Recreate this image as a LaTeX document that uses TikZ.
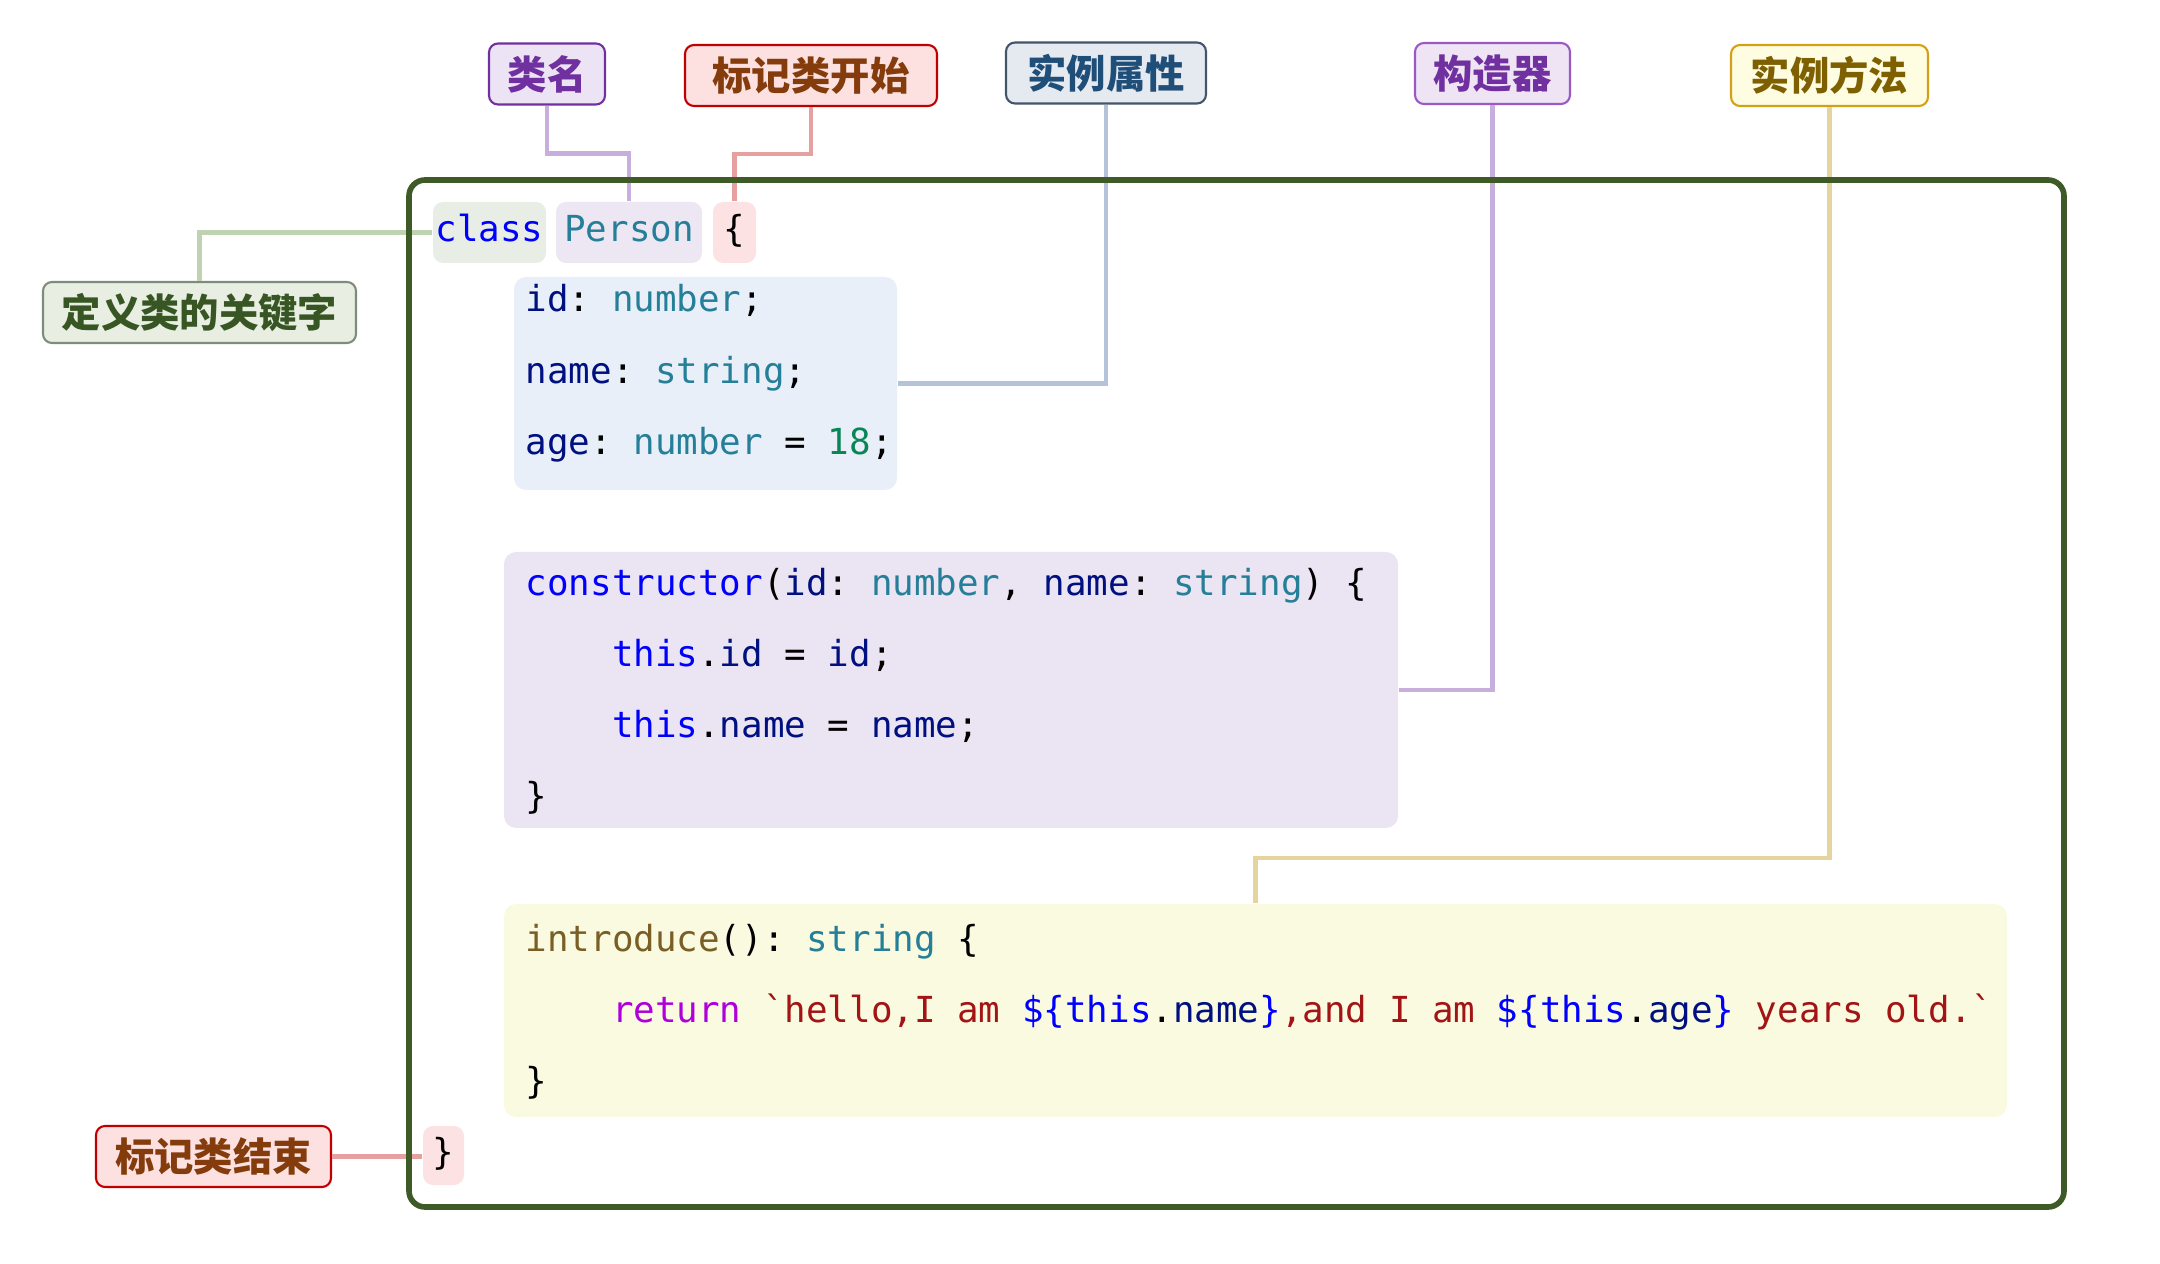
\documentclass[tikz,border=0pt]{standalone}
\usepackage{fontspec}
\setmonofont{DejaVu Sans Mono}
\newfontfamily\cjk{Noto Sans CJK SC}
\usetikzlibrary{positioning}

\definecolor{framegreen}{HTML}{3D5A27}
\definecolor{kwblue}{HTML}{0000FF}
\definecolor{typeteal}{HTML}{267F99}
\definecolor{propnavy}{HTML}{001080}
\definecolor{numgreen}{HTML}{098658}
\definecolor{fnbrown}{HTML}{795E26}
\definecolor{retpurple}{HTML}{AF00DB}
\definecolor{strred}{HTML}{A31515}
\definecolor{classfill}{HTML}{E8EEE6}
\definecolor{personfill}{HTML}{EDE6F3}
\definecolor{bracefill}{HTML}{FCE2E2}
\definecolor{fieldfill}{HTML}{E8EFF8}
\definecolor{ctorfill}{HTML}{EBE4F2}
\definecolor{methodfill}{HTML}{FAFAE1}
\definecolor{purplelink}{HTML}{C8AEDC}
\definecolor{redlink}{HTML}{E6A0A0}
\definecolor{bluelink}{HTML}{B4C2DC}
\definecolor{yellowlink}{HTML}{E6D49E}
\definecolor{greenlink}{HTML}{BFD2B2}

\newcommand\codefont{\ttfamily\fontsize{10.2}{12}\selectfont}
\newcommand\codeindent{\phantom{0000}}

\begin{document}
\begin{tikzpicture}[x=0.1mm, y=-0.1mm,
    tag/.style={draw, rounded corners=0.9mm, line width=0.6pt, inner sep=0pt, minimum height=6.1mm, font=\cjk\bfseries\fontsize{11.2}{13}\selectfont},
    token/.style={rounded corners=1mm, inner sep=0pt, minimum height=6.1mm, text height=0.75em, text depth=0.25em, font=\codefont},
    block/.style={rounded corners=1.2mm, inner sep=0pt},
    code/.style={anchor=base west, inner sep=0pt, font=\codefont},
    link/.style={line width=1.2pt},
    classframe/.style={draw=framegreen, line width=1.6pt, rounded corners=1.6mm}]

\useasboundingbox (0,0) rectangle (2160,1264);

\node[tag, fill={rgb,255:red,236;green,228;blue,244}, draw={rgb,255:red,112;green,48;blue,160}, text={rgb,255:red,112;green,48;blue,160}, minimum width=11.6mm] (leiming) at (547,74) {类名};
\node[tag, fill={rgb,255:red,253;green,224;blue,224}, draw={rgb,255:red,192;green,0;blue,0}, text={rgb,255:red,132;green,60;blue,12}, minimum width=25.2mm] (classstart) at (811,75.5) {标记类开始};
\node[tag, fill={rgb,255:red,229;green,234;blue,241}, draw={rgb,255:red,68;green,84;blue,106}, text={rgb,255:red,31;green,78;blue,121}, minimum width=20mm] (shuxing) at (1106,73) {实例属性};
\node[tag, fill={rgb,255:red,238;green,228;blue,244}, draw={rgb,255:red,155;green,89;blue,198}, text={rgb,255:red,112;green,48;blue,160}, minimum width=15.5mm] (gouzao) at (1492.5,73.5) {构造器};
\node[tag, fill={rgb,255:red,254;green,253;blue,226}, draw={rgb,255:red,212;green,160;blue,23}, text={rgb,255:red,127;green,96;blue,0}, minimum width=19.7mm] (fangfa) at (1829.5,75.5) {实例方法};
\node[tag, fill={rgb,255:red,232;green,238;blue,226}, draw={rgb,255:red,127;green,140;blue,122}, text={rgb,255:red,55;green,86;blue,35}, minimum width=31.3mm] (keyword) at (199.5,312.5) {定义类的关键字};
\node[tag, fill={rgb,255:red,253;green,224;blue,224}, draw={rgb,255:red,192;green,0;blue,0}, text={rgb,255:red,132;green,60;blue,12}, minimum width=23.5mm] (classend) at (213.5,1156.5) {标记类结束};

\node[token, fill=classfill, minimum width=11.3mm] (classkw) at (489.5,232.5) {\textcolor{kwblue}{class}};
\node[token, fill=personfill, minimum width=14.6mm] (person) at (629,232.5) {\textcolor{typeteal}{Person}};
\node[token, fill=bracefill, minimum width=4.3mm] (lbrace) at (734.5,232.5) {\{};
\node[token, fill=bracefill, minimum width=4.1mm, minimum height=5.9mm] (rbrace) at (443.5,1155.5) {\}};

\node[block, fill=fieldfill, minimum width=38.3mm, minimum height=21.3mm] (fields) at (705.5,383.5) {};
\node[block, fill=ctorfill, minimum width=89.4mm, minimum height=27.6mm] (ctor) at (951,690) {};
\node[block, fill=methodfill, minimum width=150.3mm, minimum height=21.3mm] (method) at (1255.5,1010.5) {};

\node[code] (idline) at (525,312) {\textcolor{propnavy}{id}: \textcolor{typeteal}{number};};
\node[code] (nameline) at (525,384) {\textcolor{propnavy}{name}: \textcolor{typeteal}{string};};
\node[code] (ageline) at (525,455) {\textcolor{propnavy}{age}: \textcolor{typeteal}{number} = \textcolor{numgreen}{18};};

\node[code] (ctorhead) at (525,596) {\textcolor{kwblue}{constructor}(\textcolor{propnavy}{id}: \textcolor{typeteal}{number}, \textcolor{propnavy}{name}: \textcolor{typeteal}{string}) \{};
\node[code] (ctorid) at (525,667) {\codeindent\textcolor{kwblue}{this}.\textcolor{propnavy}{id} = \textcolor{propnavy}{id};};
\node[code] (ctorname) at (525,738) {\codeindent\textcolor{kwblue}{this}.\textcolor{propnavy}{name} = \textcolor{propnavy}{name};};
\node[code] (ctorend) at (525,809) {\}};

\node[code] (methodhead) at (525,951) {\textcolor{fnbrown}{introduce}(): \textcolor{typeteal}{string} \{};
\node[code] (methodret) at (525,1022) {\codeindent\textcolor{retpurple}{return} \textcolor{strred}{\textasciigrave hello,I am} \textcolor{kwblue}{\$\{this}.\textcolor{propnavy}{name}\textcolor{kwblue}{\}}\textcolor{strred}{,and I am} \textcolor{kwblue}{\$\{this}.\textcolor{propnavy}{age}\textcolor{kwblue}{\}} \textcolor{strred}{years old.\textasciigrave}};
\node[code] (methodend) at (525,1093) {\}};

\draw[link, purplelink] (leiming.south) -- ++(0,48) -| (person.north);
\draw[link, redlink] (classstart.south) -- ++(0,47) -| (lbrace.north);
\draw[link, bluelink] (shuxing.south) |- (fields.east);
\draw[link, purplelink] (gouzao.south) |- (ctor.east);
\draw[link, yellowlink] (fangfa.south) -- ++(0,751) -| (method.north);
\draw[link, greenlink] (keyword.north) |- (classkw.west);
\draw[link, redlink] (classend.east) -- (classend.east -| rbrace.west);

\draw[classframe] (409,180) rectangle (2064,1207);
\end{tikzpicture}
\end{document}
